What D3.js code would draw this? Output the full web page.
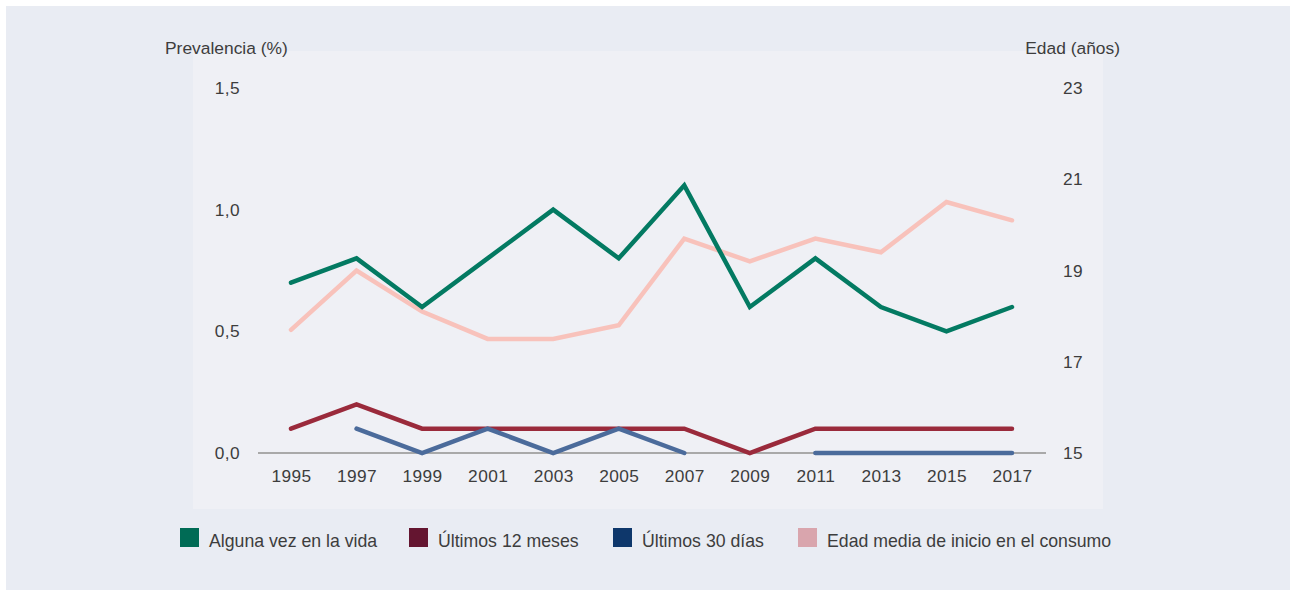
<!DOCTYPE html>
<html><head><meta charset="utf-8">
<script src="https://cdn.jsdelivr.net/npm/d3@7"></script>
<style>body{margin:0;background:#fff;} text{font-family:"Liberation Sans",Arial,sans-serif;}</style>
</head><body>
<svg id="c" width="1292" height="592"></svg>
<script>
const years = [1995,1997,1999,2001,2003,2005,2007,2009,2011,2013,2015,2017];
const alguna = [0.7,0.8,0.6,0.8,1.0,0.8,1.1,0.6,0.8,0.6,0.5,0.6];
const ultimos12 = [0.1,0.2,0.1,0.1,0.1,0.1,0.1,0.0,0.1,0.1,0.1,0.1];
const ultimos30 = [null,0.1,0.0,0.1,0.0,0.1,0.0,null,0.0,0.0,0.0,0.0];
const edadMedia = [17.7,19.0,18.1,17.5,17.5,17.8,19.7,19.2,19.7,19.4,20.5,20.1];
const leftTicks = [0,0.5,1.0,1.5];
const rightTicks = [15,17,19,21,23];
const legendLabels = ["Alguna vez en la vida","Últimos 12 meses","Últimos 30 días","Edad media de inicio en el consumo"];

const svg = d3.select("#c");
svg.append("rect").attr("x",6).attr("y",6).attr("width",1284).attr("height",584).attr("fill","#e9ecf3");
svg.append("rect").attr("x",193).attr("y",51).attr("width",910).attr("height",458).attr("fill","#eff0f5");

const x = d3.scalePoint().domain(years).range([291,1012]);
const yL = d3.scaleLinear().domain([0,1.5]).range([453,88]);
const yR = d3.scaleLinear().domain([15,23]).range([453,88]);

const fmt = d => d.toFixed(1).replace(".",",");
const txtColor = "#3d3d3d";
const tickFont = 17.3;

function styleTicks(g){
  g.select(".domain").remove();
  g.selectAll("text").attr("font-size",tickFont).attr("fill",txtColor)
    .attr("font-family","Liberation Sans, Arial, sans-serif").attr("dy","0.32em").attr("letter-spacing","0.4px");
}

// left axis
const la = svg.append("g").attr("transform","translate(240,0)")
  .call(d3.axisLeft(yL).tickValues(leftTicks).tickFormat(fmt).tickSize(0).tickPadding(0));
styleTicks(la);

// right axis
const ra = svg.append("g").attr("transform","translate(1073,0)")
  .call(d3.axisRight(yR).tickValues(rightTicks).tickFormat(d3.format("d")).tickSize(0).tickPadding(0));
styleTicks(ra);
ra.selectAll("text").attr("text-anchor","middle");

// x axis
const xa = svg.append("g").attr("transform","translate(0,476)")
  .call(d3.axisBottom(x).tickSize(0).tickPadding(0).tickFormat(d3.format("d")));
styleTicks(xa);

// axis titles
svg.append("text").attr("x",165).attr("y",54).attr("font-size",17.4).attr("fill",txtColor).text("Prevalencia (%)");
svg.append("text").attr("x",1120).attr("y",54).attr("font-size",17.4).attr("fill",txtColor).attr("text-anchor","end").text("Edad (años)");

// baseline
svg.append("line").attr("x1",258).attr("x2",1046).attr("y1",yL(0)).attr("y2",yL(0)).attr("stroke","#a9a9a9").attr("stroke-width",2.2);

function drawLine(vals, yScale, color){
  const line = d3.line().defined(d => d[1] !== null).x(d => x(d[0])).y(d => yScale(d[1]));
  svg.append("path").datum(years.map((yr,i)=>[yr, vals[i]]))
    .attr("d", line).attr("fill","none").attr("stroke",color).attr("stroke-width",4.5)
    .attr("stroke-linejoin","miter").attr("stroke-linecap","round");
}
drawLine(edadMedia, yR, "#f8c2bb");
drawLine(alguna, yL, "#037a62");
drawLine(ultimos12, yL, "#9a2a3b");
drawLine(ultimos30, yL, "#4b6b9b");

// legend
const legColors = ["#006b55","#641530","#0e376b","#d9a5ad"];
const legX = [180,409,613,798];
legendLabels.forEach((lab,i)=>{
  svg.append("rect").attr("x",legX[i]).attr("y",528).attr("width",19).attr("height",19).attr("fill",legColors[i]);
  svg.append("text").attr("x",legX[i]+29).attr("y",547).attr("font-size",17.7).attr("fill",txtColor).text(lab);
});
</script>
</body></html>
